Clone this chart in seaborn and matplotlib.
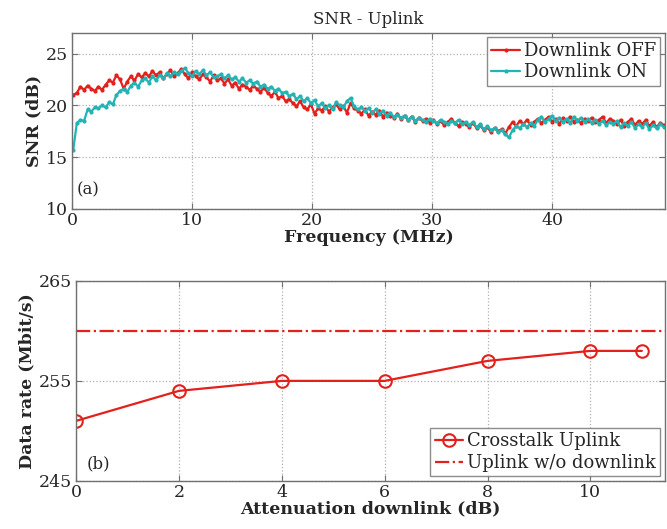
import numpy as np
import pandas as pd
import matplotlib
matplotlib.use("Agg")
import matplotlib.pyplot as plt
import seaborn as sns

# --- data: SNR per frequency (0.3 MHz steps starting 0.1 MHz) --- #
freq_start = 0.1
freq_step = 0.3

snr_off = [
    21.0, 21.2, 21.8, 21.5, 21.9, 21.6, 21.4, 21.8, 21.5, 22.0,
    22.4, 22.2, 22.9, 22.5, 21.6, 22.3, 22.8, 22.4, 23.0, 22.7,
    23.1, 22.8, 23.3, 22.9, 23.2, 22.6, 23.0, 23.4, 22.8, 23.1,
    23.5, 23.0, 22.6, 23.2, 22.8, 22.5, 23.0, 22.7, 22.3, 22.9,
    22.4, 22.6, 22.1, 22.5, 21.9, 22.2, 21.6, 22.0, 21.8, 21.5,
    21.9, 21.6, 21.3, 21.7, 21.2, 20.9, 21.3, 20.7, 20.9, 20.4,
    20.6, 20.2, 19.9, 20.4, 19.8, 19.6, 20.1, 19.2, 19.7, 19.5,
    19.9, 19.4, 19.8, 20.1, 19.6, 19.9, 19.3, 20.2, 19.7, 19.5,
    19.2, 19.6, 19.0, 19.4, 19.1, 19.5, 18.9, 19.3, 19.0, 18.8,
    19.2, 18.7, 19.0, 18.6, 18.9, 18.4, 18.8, 18.5, 18.7, 18.3,
    18.6, 18.2, 18.5, 18.1, 18.4, 18.7, 18.3, 18.0, 18.4, 18.2,
    17.9, 18.3, 17.8, 18.1, 17.6, 17.9, 17.4, 17.8, 17.5, 17.7,
    17.3, 17.9, 18.4, 18.0, 18.5, 18.2, 18.6, 18.1, 18.4, 18.7,
    18.3, 18.6, 18.9, 18.4, 18.7, 18.2, 18.8, 18.5, 18.9, 18.4,
    18.6, 18.3, 18.7, 18.5, 18.8, 18.4, 18.6, 18.9, 18.3, 18.7,
    18.5, 18.2, 18.6, 18.0, 18.4, 18.7, 18.1, 18.5, 18.2, 18.6,
    18.0, 18.4, 17.9, 18.3, 18.1,
]

snr_on = [
    15.7, 18.3, 18.6, 18.5, 19.6, 19.4, 19.8, 19.7, 20.0, 19.8,
    20.3, 20.1, 21.0, 21.4, 21.6, 21.3, 21.9, 22.2, 21.8, 22.4,
    22.6, 22.2, 22.8, 22.4, 22.9, 22.6, 23.1, 22.8, 23.2, 23.0,
    23.3, 23.6, 23.1, 22.8, 23.3, 23.0, 23.4, 22.9, 23.2, 22.7,
    22.8, 23.0, 22.6, 22.9, 22.5, 22.7, 22.3, 22.6, 22.2, 22.4,
    22.1, 22.3, 21.8, 22.0, 21.6, 21.8, 21.4, 21.6, 21.2, 21.3,
    20.9, 21.1, 20.6, 20.9, 20.4, 20.7, 20.2, 20.5, 19.9, 20.2,
    19.7, 20.0, 19.6, 20.3, 20.0, 19.8, 20.4, 20.7, 19.9, 19.6,
    19.8, 19.5, 19.7, 19.3, 19.6, 19.2, 19.5, 19.0, 19.3, 18.9,
    19.1, 18.8, 19.0, 18.6, 18.9, 18.5, 18.8, 18.6, 18.4, 18.7,
    18.5, 18.3, 18.6, 18.4, 18.2, 18.5, 18.3, 18.6, 18.2, 18.4,
    18.1, 18.4, 17.9, 18.2, 17.7, 18.0, 17.6, 17.8, 17.4, 17.6,
    17.2, 16.9, 17.6, 18.0, 17.8, 18.2, 17.9, 18.3, 18.0, 18.6,
    18.9, 18.4, 18.7, 19.0, 18.5, 18.8, 18.4, 18.7, 18.3, 18.9,
    18.5, 18.8, 18.4, 18.7, 18.3, 18.6, 18.2, 18.5, 18.1, 18.4,
    18.2, 18.5, 17.9, 18.3, 18.0, 18.4, 17.8, 18.2, 17.9, 18.3,
    17.7, 18.1, 17.8, 18.2, 17.9,
]

# --- data: data rate vs attenuation --- #
attenuation = [0, 2, 4, 6, 8, 10, 11]
rate_crosstalk = [251, 254, 255, 255, 257, 258, 258]
rate_no_downlink = 260

RED = "#e3201b"
CYAN = "#22b4b4"
GRID = "#b0b0b0"

sns.set_style("whitegrid")
plt.rcParams["font.family"] = ["DejaVu Serif"]

freq = freq_start + freq_step * np.arange(len(snr_off))
df_snr = pd.DataFrame({
    "f": np.concatenate([freq, freq]),
    "snr": snr_off + snr_on,
    "state": ["Downlink OFF"] * len(snr_off) + ["Downlink ON"] * len(snr_on),
})
df_rate = pd.DataFrame({"att": attenuation, "rate": rate_crosstalk})

fig = plt.figure(figsize=(6.67, 5.29), dpi=100)
ax1 = fig.add_axes([0.108, 0.605, 0.889, 0.333])
ax2 = fig.add_axes([0.114, 0.091, 0.883, 0.378])


def style_axes(ax):
    ax.grid(True, color=GRID, linestyle=":", linewidth=0.9)
    for sp in ax.spines.values():
        sp.set_color("#707070")
        sp.set_linewidth(1.0)
    ax.tick_params(direction="in", length=4, color="#707070", labelsize=12.5,
                   top=True, right=True, left=True, bottom=True, pad=2)
    ax.tick_params(axis="y", pad=3)


# --- (a) SNR --- #
sns.lineplot(data=df_snr, x="f", y="snr", hue="state",
             palette={"Downlink OFF": RED, "Downlink ON": CYAN},
             marker="o", markersize=3, markeredgewidth=0, linewidth=1.6,
             ax=ax1)
ax1.set_xlim(0, 49.4)
ax1.set_ylim(10, 27)
ax1.set_xticks([0, 10, 20, 30, 40])
ax1.set_yticks([10, 15, 20, 25])
style_axes(ax1)
ax1.set_xlabel("Frequency (MHz)", fontsize=12.5, fontweight="bold", labelpad=0)
ax1.set_ylabel("SNR (dB)", fontsize=12.5, fontweight="bold", labelpad=2)
ax1.set_title("SNR - Uplink", fontsize=12, pad=6)
ax1.text(0.4, 11.4, "(a)", fontsize=12)
leg1 = ax1.legend(loc="upper right", fontsize=13, frameon=True, fancybox=False,
                  edgecolor="#707070", borderpad=0.25, handlelength=1.6,
                  handletextpad=0.2, labelspacing=0.2, borderaxespad=0.25)
leg1.get_frame().set_linewidth(1.0)

# --- (b) data rate --- #
sns.lineplot(data=df_rate, x="att", y="rate", color=RED, marker="o",
             markersize=9, markerfacecolor="none", markeredgecolor=RED,
             markeredgewidth=1.5, linewidth=1.6, label="Crosstalk Uplink", ax=ax2)
ax2.axhline(rate_no_downlink, color=RED, linestyle="-.", linewidth=1.6,
            label="Uplink w/o downlink")
ax2.set_xlim(0, 11.45)
ax2.set_ylim(245, 265)
ax2.set_xticks([0, 2, 4, 6, 8, 10])
ax2.set_yticks([245, 255, 265])
style_axes(ax2)
ax2.set_xlabel("Attenuation downlink (dB)", fontsize=12.5, fontweight="bold", labelpad=0)
ax2.set_ylabel("Data rate (Mbit/s)", fontsize=12.5, fontweight="bold", labelpad=2)
ax2.text(0.2, 246.2, "(b)", fontsize=12)
leg2 = ax2.legend(loc="lower right", fontsize=13, frameon=True, fancybox=False,
                  edgecolor="#707070", borderpad=0.25, handlelength=1.6,
                  handletextpad=0.2, labelspacing=0.2, borderaxespad=0.25)
leg2.get_frame().set_linewidth(1.0)

fig.savefig("out.png", dpi=100)
